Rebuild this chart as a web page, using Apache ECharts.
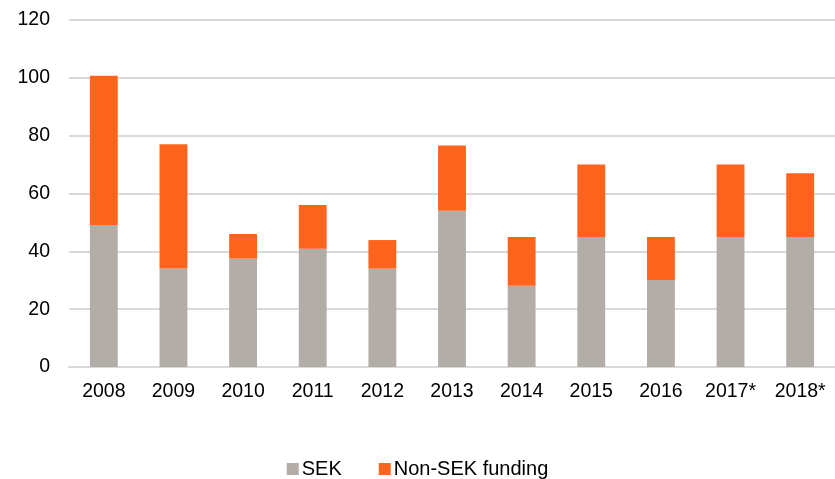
<!DOCTYPE html>
<html>
<head>
<meta charset="utf-8">
<script src="https://cdn.jsdelivr.net/npm/echarts@6/dist/echarts.min.js"></script>
<style>
  html, body { margin: 0; padding: 0; background: #fff; }
  #chart { width: 835px; height: 479px; }
</style>
</head>
<body>
<div id="chart"></div>
<script>
var years = ['2008', '2009', '2010', '2011', '2012', '2013', '2014', '2015', '2016', '2017*', '2018*'];
var sek = [49.1, 34.1, 37.5, 40.9, 34.0, 54.0, 28.1, 45.0, 30.1, 45.0, 45.0];
var nonSek = [51.6, 42.9, 8.5, 15.1, 9.9, 22.6, 16.9, 25.0, 14.9, 25.0, 22.0];

var chart = echarts.init(document.getElementById('chart'));
var option = {
    animation: false,
    textStyle: { fontFamily: 'Liberation Sans, Arial, sans-serif' },
    grid: { left: 69, right: 0, top: 20, bottom: 112 },
    legend: {
        bottom: 0,
        padding: 0,
        left: 'center',
        itemWidth: 12,
        itemHeight: 12,
        itemGap: 37,
        icon: 'rect',
        textStyle: { fontSize: 20, color: '#000', padding: [0, 0, 0, -2] },
        data: ['SEK', 'Non-SEK funding']
    },
    xAxis: {
        type: 'category',
        data: years,
        axisLine: { lineStyle: { color: '#d9d9d9', width: 2 } },
        axisTick: { show: false },
        axisLabel: { fontSize: 19.5, color: '#000', margin: 15 }
    },
    yAxis: {
        type: 'value',
        min: 0,
        max: 120,
        interval: 20,
        axisLine: { show: false },
        axisTick: { show: false },
        splitLine: { lineStyle: { color: '#d9d9d9', width: 2 } },
        axisLabel: { fontSize: 19.5, color: '#000', margin: 19 }
    },
    series: [
        {
            name: 'SEK',
            type: 'bar',
            stack: 'total',
            barWidth: '40%',
            itemStyle: { color: '#b3ada8' },
            data: sek
        },
        {
            name: 'Non-SEK funding',
            type: 'bar',
            stack: 'total',
            barWidth: '40%',
            itemStyle: { color: '#ff631c' },
            data: nonSek
        }
    ]
};
chart.setOption(option);
</script>
</body>
</html>
